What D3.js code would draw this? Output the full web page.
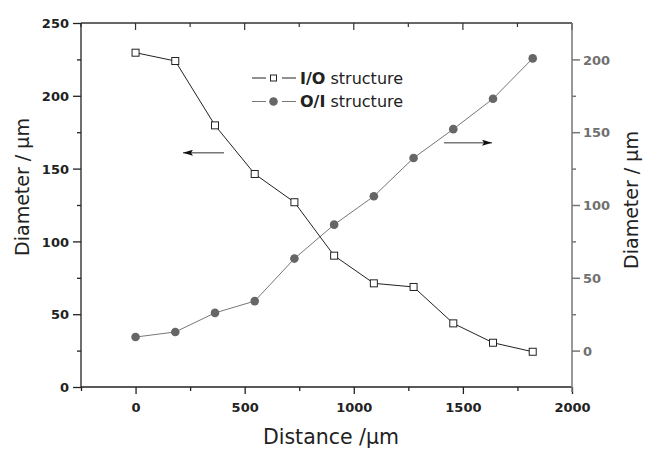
<!DOCTYPE html>
<html><head><meta charset="utf-8">
<script src="https://cdn.jsdelivr.net/npm/d3@7"></script>
<style>body{margin:0;background:#fff}svg{display:block}text{font-family:"DejaVu Sans",sans-serif}</style>
</head><body><svg id="c" width="646" height="450"></svg>
<script>
const distance = [0,182,364,546,728,910,1092,1274,1456,1638,1820];
const ioValues = [229.6,223.9,179.7,146.3,126.9,90.2,71.2,68.7,43.7,30.4,24.2];
const oiValues = [9.3,12.8,25.9,34.0,63.2,86.5,106.0,132.3,152.1,173.0,200.7];
const xTicks = [0,500,1000,1500,2000];
const yLeftTicks = [0,50,100,150,200,250];
const yRightTicks = [0,50,100,150,200];
const seriesNames = ["I/O","O/I"];

const svg = d3.select("#c");
const L=81,R=572,T=23,B=387;
const x = d3.scaleLinear().domain([-250,2000]).range([L,R]);
const yL = d3.scaleLinear().domain([0,250]).range([B,T]);
const yR = d3.scaleLinear().domain([-25,225]).range([B,T]);
const dark="#222", gray="#777";
const fmt = d3.format("d");

// top border with inward ticks
svg.append("line").attr("x1",L).attr("x2",R).attr("y1",T).attr("y2",T).attr("stroke","#333").attr("stroke-width",1.3);
d3.range(-250,2001,250).forEach(v=>{
  const major = v%500===0;
  svg.append("line").attr("x1",x(v)).attr("x2",x(v)).attr("y1",T).attr("y2",T+(major?7:4)).attr("stroke","#333").attr("stroke-width",1.2);
});

// bottom axis
const gx = svg.append("g").attr("transform",`translate(0,${B})`);
gx.call(d3.axisBottom(x).tickValues(d3.range(-250,2001,250)).tickSize(4).tickFormat(""));
gx.selectAll(".tick line").filter(d=>d%500===0).attr("y2",7);
gx.selectAll("path,line").attr("stroke",dark).attr("stroke-width",1.3);
gx.select(".domain").attr("d",`M${L},0H${R}`);
const gxl = svg.append("g").attr("transform",`translate(0,${B})`);
gxl.call(d3.axisBottom(x).tickValues(xTicks).tickSize(0).tickPadding(0).tickFormat(fmt));
gxl.select(".domain").remove();
gxl.selectAll("text").attr("font-size",13).attr("font-weight","bold").attr("fill",dark).attr("y",25).attr("dy",0);

// left axis
const gl = svg.append("g").attr("transform",`translate(${L},0)`);
gl.call(d3.axisLeft(yL).tickValues(d3.range(0,251,25)).tickSize(4).tickFormat(""));
gl.selectAll(".tick line").filter(d=>d%50===0).attr("x2",-8);
gl.selectAll("path,line").attr("stroke",dark).attr("stroke-width",1.3);
gl.select(".domain").attr("d",`M0,${B}V${T}`);
const gll = svg.append("g").attr("transform",`translate(${L},0)`);
gll.call(d3.axisLeft(yL).tickValues(yLeftTicks).tickSize(0).tickPadding(12).tickFormat(fmt));
gll.select(".domain").remove();
gll.selectAll("text").attr("font-size",13).attr("font-weight","bold").attr("fill",dark).attr("dy","0.36em");

// right axis
const gr = svg.append("g").attr("transform",`translate(${R},0)`);
gr.call(d3.axisRight(yR).tickValues(d3.range(-25,226,25)).tickSize(4).tickFormat(""));
gr.selectAll(".tick line").filter(d=>d%50===0).attr("x2",8);
gr.selectAll(".tick").filter(d=>d===-25||d===225).remove();
gr.selectAll("path,line").attr("stroke",gray).attr("stroke-width",1.5);
gr.select(".domain").attr("d",`M0,${B+5}V${T}`);
const grl = svg.append("g").attr("transform",`translate(${R},0)`);
grl.call(d3.axisRight(yR).tickValues(yRightTicks).tickSize(0).tickPadding(11).tickFormat(fmt));
grl.select(".domain").remove();
grl.selectAll("text").attr("font-size",13).attr("font-weight","bold").attr("fill","#707070").attr("dy","0.36em");

// axis titles
svg.append("text").attr("transform","translate(29,187) rotate(-90)").attr("text-anchor","middle").attr("font-size",19).attr("fill",dark).text("Diameter / μm");
svg.append("text").attr("transform","translate(638,200) rotate(-90)").attr("text-anchor","middle").attr("font-size",19).attr("fill",dark).text("Diameter / μm");
svg.append("text").attr("x",331).attr("y",444).attr("text-anchor","middle").attr("font-size",20.5).attr("fill",dark).text("Distance /μm");

// O/I series (right axis)
const lineR = d3.line().x((d,i)=>x(distance[i])).y(d=>yR(d));
svg.append("path").attr("d",lineR(oiValues)).attr("fill","none").attr("stroke",gray).attr("stroke-width",1);
svg.selectAll(".oi").data(oiValues).join("circle").attr("cx",(d,i)=>x(distance[i])).attr("cy",d=>yR(d)).attr("r",4.3).attr("fill","#666");

// I/O series (left axis)
const lineL = d3.line().x((d,i)=>x(distance[i])).y(d=>yL(d));
svg.append("path").attr("d",lineL(ioValues)).attr("fill","none").attr("stroke",dark).attr("stroke-width",1);
svg.selectAll(".io").data(ioValues).join("rect").attr("x",(d,i)=>x(distance[i])-3.5).attr("y",d=>yL(d)-3.5).attr("width",7).attr("height",7).attr("fill","#fff").attr("stroke",dark).attr("stroke-width",1);

// arrows
const defs = svg.append("defs");
defs.append("marker").attr("id","ah").attr("viewBox","0 0 10 6").attr("refX",10).attr("refY",3).attr("markerWidth",10).attr("markerHeight",6).attr("markerUnits","userSpaceOnUse").attr("orient","auto")
  .append("path").attr("d","M0,0L10,3L0,6L2,3Z").attr("fill","#111");
svg.append("line").attr("x1",224).attr("y1",152.7).attr("x2",183).attr("y2",152.7).attr("stroke",gray).attr("stroke-width",1.6).attr("marker-end","url(#ah)");
svg.append("line").attr("x1",444).attr("y1",142.7).attr("x2",492).attr("y2",142.7).attr("stroke",gray).attr("stroke-width",1.6).attr("marker-end","url(#ah)");

// legend
const leg = [{name:seriesNames[0],y:78,type:"sq",c:dark},{name:seriesNames[1],y:101.5,type:"ci",c:gray}];
leg.forEach(l=>{
  svg.append("line").attr("x1",252).attr("x2",296).attr("y1",l.y).attr("y2",l.y).attr("stroke",l.c).attr("stroke-width",1);
  svg.append("rect").attr("x",266).attr("y",l.y-5).attr("width",16).attr("height",10).attr("fill","#fff");
  if(l.type==="sq") svg.append("rect").attr("x",270.5).attr("y",l.y-3).attr("width",6).attr("height",6).attr("fill","#fff").attr("stroke",dark);
  else svg.append("circle").attr("cx",273.5).attr("cy",l.y).attr("r",4.3).attr("fill","#666");
  const t = svg.append("text").attr("x",300).attr("y",l.y+5.5).attr("font-size",16).attr("fill",dark);
  t.append("tspan").attr("font-weight","bold").text(l.name);
  t.append("tspan").text(" structure");
});
</script></body></html>
